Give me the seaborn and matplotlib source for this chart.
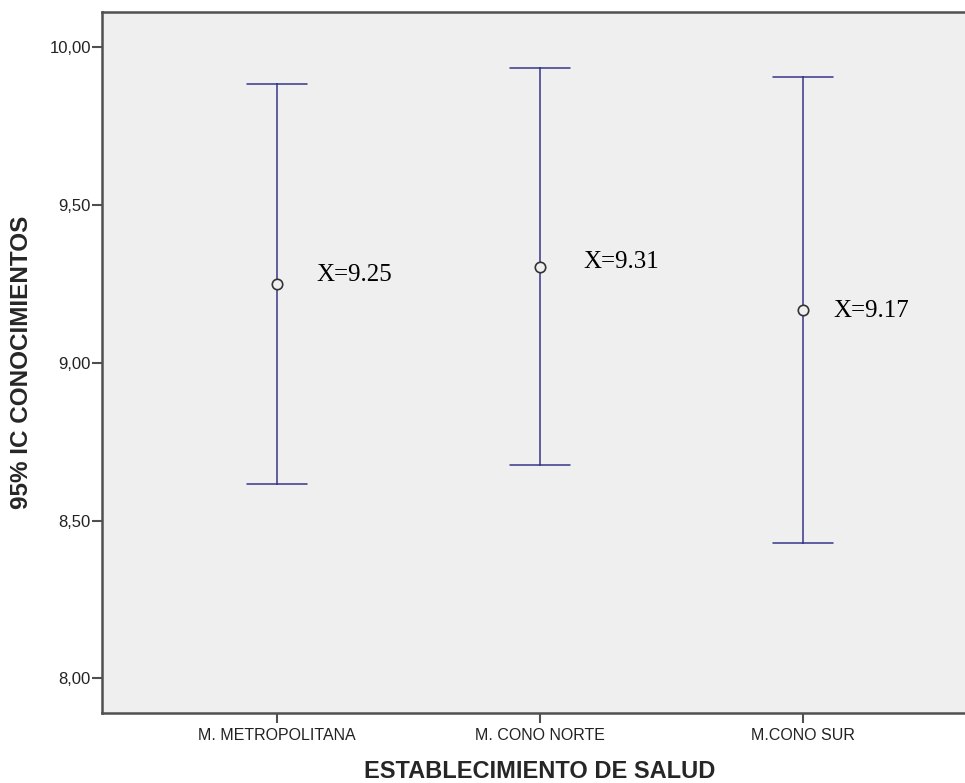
import matplotlib
matplotlib.use("Agg")
import matplotlib.pyplot as plt
import seaborn as sns
import pandas as pd

# Data (mean and 95% CI per group)
categories = ["M. METROPOLITANA", "M. CONO NORTE", "M.CONO SUR"]
means = [9.250, 9.305, 9.168]
ci_low = [8.616, 8.676, 8.429]
ci_high = [9.884, 9.934, 9.906]
mean_labels = ["X=9.25", "X=9.31", "X=9.17"]
yticks = [8.0, 8.5, 9.0, 9.5, 10.0]

# long-form table: lo / mean / hi per group -> median = mean, 100% interval = CI
df = pd.DataFrame({
    "grupo": [c for c in categories for _ in range(3)],
    "valor": [v for trio in zip(ci_low, means, ci_high) for v in trio],
})

sns.set_style("white")
plt.rcParams["font.family"] = ["Liberation Sans", "DejaVu Sans"]

bg = "#efefef"
bar_color = "#3d3d8f"
spine_color = "#505050"

fig, ax = plt.subplots(figsize=(9.65, 7.83), dpi=100)
ax.set_position([102 / 965, 70 / 783, 876 / 965, 701 / 783])
ax.set_facecolor(bg)

sns.pointplot(
    data=df, x="grupo", y="valor", order=categories,
    estimator="median", errorbar=("pi", 100),
    capsize=0.23, linestyle="none", marker="o",
    color=bar_color, markersize=7.5, markeredgewidth=1.2,
    err_kws={"linewidth": 1.15}, ax=ax,
)

# hollow dark circles on top of the bars
for line in ax.lines:
    if line.get_marker() == "o":
        line.set_markerfacecolor(bg)
        line.set_markeredgecolor("#333333")
        line.set_zorder(5)

# mean labels
label_offsets = [(39, 9), (43, 5), (31, -1)]
for i, (m, txt) in enumerate(zip(means, mean_labels)):
    ax.annotate(txt, xy=(i, m), xytext=label_offsets[i], textcoords="offset pixels",
                ha="left", va="center", fontsize=18,
                fontfamily=["Liberation Serif", "DejaVu Serif"], color="#000000")

ax.set_xlim(-0.667, 2.667)
ax.set_ylim(7.89, 10.112)
ax.set_yticks(yticks)
ax.set_yticklabels([f"{v:.2f}".replace(".", ",") for v in yticks])

ax.tick_params(axis="both", which="both", left=True, bottom=True, top=False, right=False,
               length=7, width=1.5, color=spine_color, labelsize=12, labelcolor="#222222")
ax.tick_params(axis="y", pad=1)
ax.tick_params(axis="x", pad=4, labelsize=11.5)

for side in ["top", "left", "bottom"]:
    ax.spines[side].set_visible(True)
    ax.spines[side].set_color(spine_color)
    ax.spines[side].set_linewidth(1.8)
ax.spines["right"].set_visible(False)

ax.set_xlabel("ESTABLECIMIENTO DE SALUD", fontsize=17, fontweight="bold", labelpad=12)
ax.set_ylabel("95% IC CONOCIMIENTOS", fontsize=17.5, fontweight="bold", labelpad=12)

fig.savefig("out.png", dpi=100)
